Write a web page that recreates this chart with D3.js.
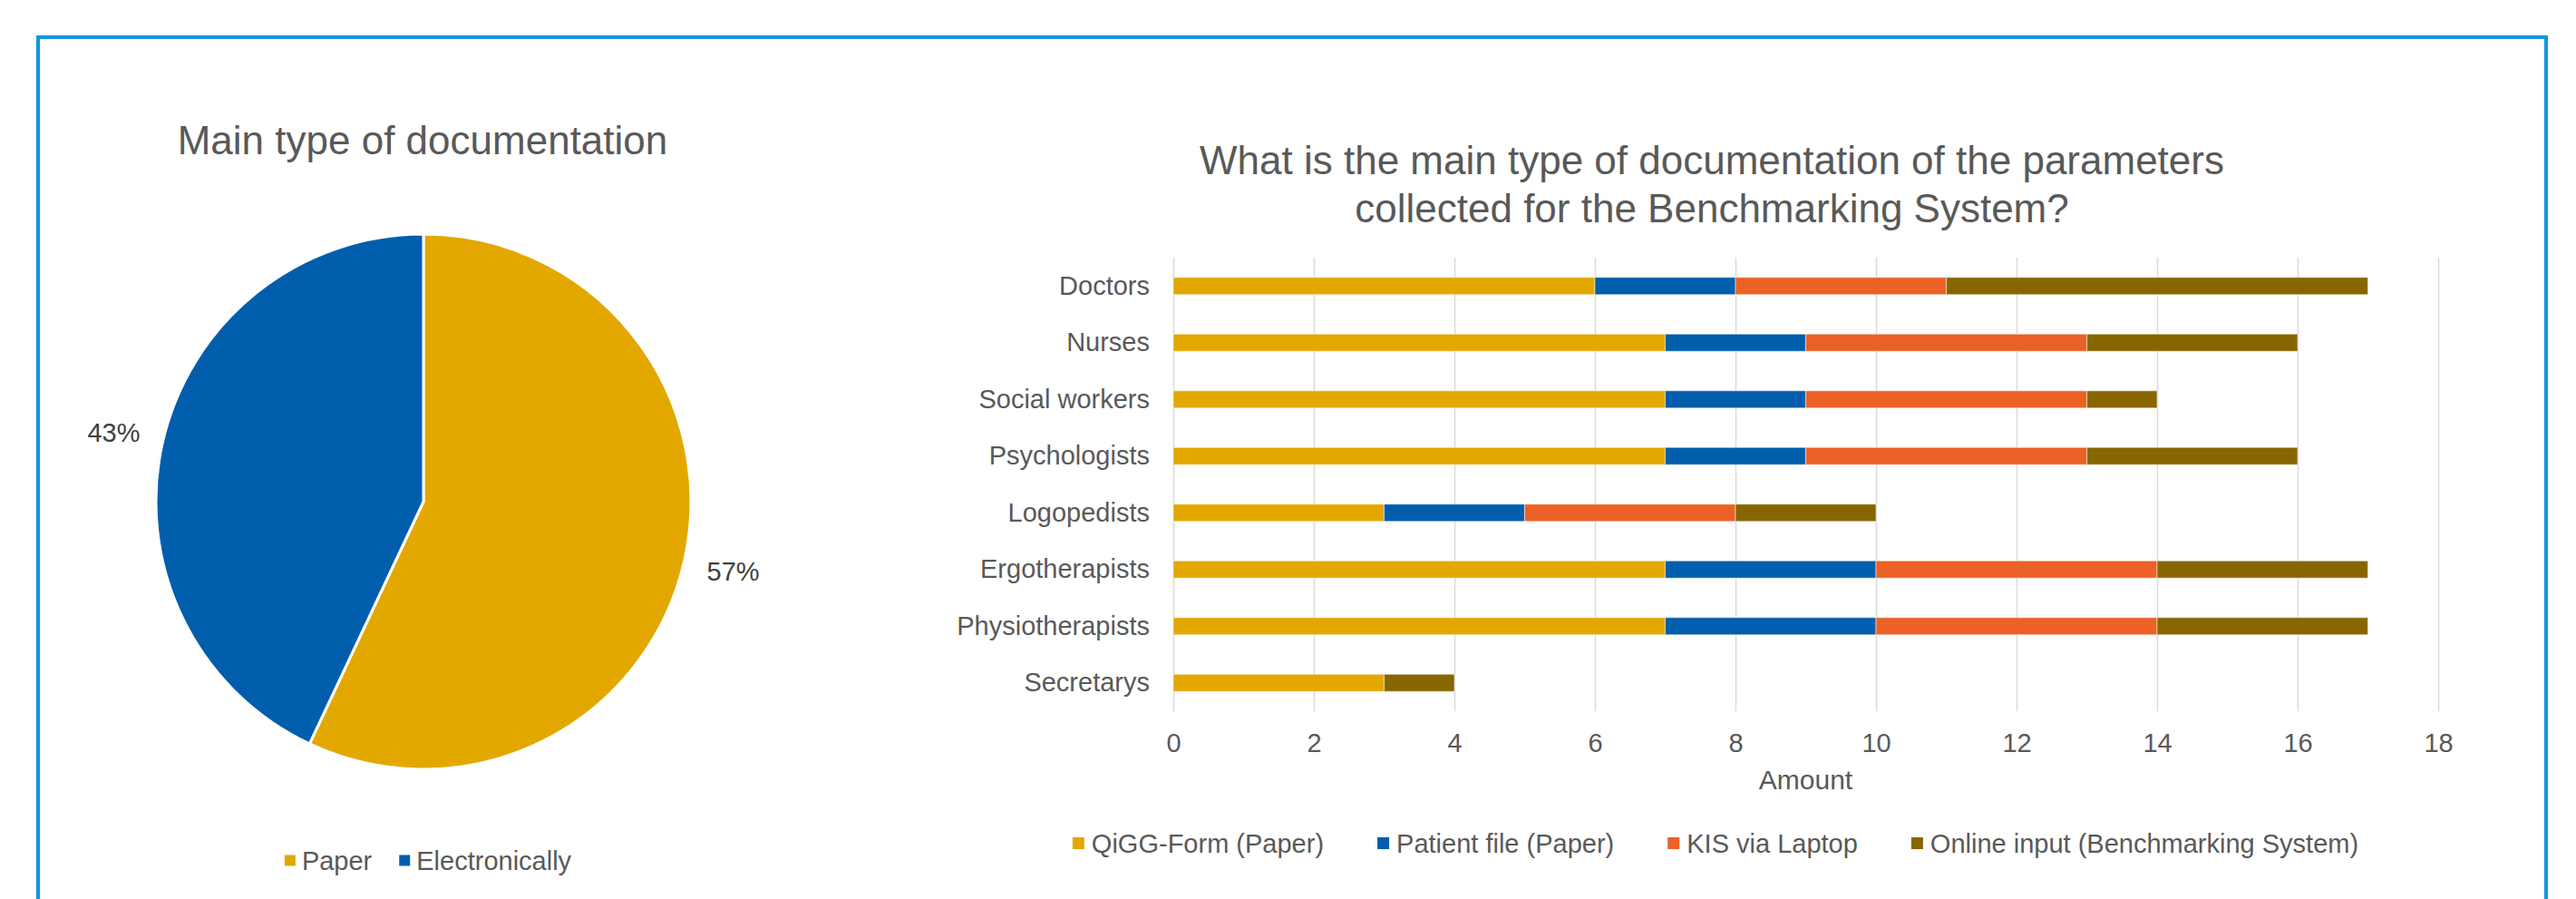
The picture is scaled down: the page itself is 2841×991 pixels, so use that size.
<!DOCTYPE html>
<html>
<head>
<meta charset="utf-8">
<script src="https://cdn.jsdelivr.net/npm/d3@7/dist/d3.min.js"></script>
<style>
  html, body { margin: 0; padding: 0; background: #fff; }
  svg { display: block; font-family: "Liberation Sans", Arial, sans-serif; }
</style>
</head>
<body>
<svg id="chart" width="2841" height="991"></svg>
<script>
// ---------- Data ----------
const pieTitle = "Main type of documentation";
const pieCategories = ["Paper", "Electronically"];
const pieValues = [57, 43];
const pieColors = ["#E3A800", "#005EAD"];

const barTitleLines = ["What is the main type of documentation of the parameters",
                       "collected for the Benchmarking System?"];
const categories = ["Doctors", "Nurses", "Social workers", "Psychologists",
                    "Logopedists", "Ergotherapists", "Physiotherapists", "Secretarys"];
const seriesNames = ["QiGG-Form (Paper)", "Patient file (Paper)", "KIS via Laptop",
                     "Online input (Benchmarking System)"];
const qiggForm     = [6, 7, 7, 7, 3, 7, 7, 3];
const patientFile  = [2, 2, 2, 2, 2, 3, 3, 0];
const kisLaptop    = [3, 4, 4, 4, 3, 4, 4, 0];
const onlineInput  = [6, 3, 1, 3, 2, 3, 3, 1];
const seriesColors = ["#E3A800", "#005EAD", "#EB6126", "#876600"];
const xTicks = [0, 2, 4, 6, 8, 10, 12, 14, 16, 18];
const xAxisTitle = "Amount";

(function () {
// ---------- Setup ----------
const svg = d3.select("#chart");
const textColor = "#595959";

// Outer frame
svg.append("rect")
  .attr("x", 42).attr("y", 41)
  .attr("width", 2766).attr("height", 1000)
  .attr("fill", "none")
  .attr("stroke", "#1296DB")
  .attr("stroke-width", 4);

// ---------- Pie chart ----------
const pcx = 467, pcy = 553, pr = 295;
svg.append("text")
  .attr("x", 466).attr("y", 170)
  .attr("text-anchor", "middle")
  .attr("font-size", 44)
  .attr("fill", textColor)
  .text(pieTitle);

const pie = d3.pie().sort(null).value(d => d.v);
const pieData = pie(pieCategories.map((c, i) => ({c, v: pieValues[i], col: pieColors[i]})));
const arc = d3.arc().innerRadius(0).outerRadius(pr);
const labelArc = d3.arc().innerRadius(350).outerRadius(350);
const total = d3.sum(pieValues);

const pg = svg.append("g").attr("transform", `translate(${pcx},${pcy})`);
pg.selectAll("path").data(pieData).join("path")
  .attr("d", arc)
  .attr("fill", d => d.data.col)
  .attr("stroke", "#fff")
  .attr("stroke-width", 3)
  .attr("stroke-linejoin", "round");
pg.selectAll("text").data(pieData).join("text")
  .attr("transform", d => `translate(${labelArc.centroid(d)})`)
  .attr("text-anchor", "middle")
  .attr("dy", "0.35em")
  .attr("font-size", 29)
  .attr("fill", "#404040")
  .text(d => Math.round(d.data.v / total * 100) + "%");

// Legend helper
function drawLegend(names, colors, centerX, baseline, markerGap, itemGap, msize) {
  const lg = svg.append("g");
  let cursor = 0;
  names.forEach((n, i) => {
    const g = lg.append("g");
    g.append("rect")
      .attr("x", cursor).attr("y", baseline - 10.5 - msize / 2)
      .attr("width", msize).attr("height", msize)
      .attr("fill", colors[i]);
    const t = g.append("text")
      .attr("x", cursor + markerGap).attr("y", baseline)
      .attr("font-size", 29)
      .attr("fill", textColor)
      .text(n);
    const w = t.node().getComputedTextLength();
    cursor = cursor + markerGap + w + itemGap;
  });
  const totalW = cursor - itemGap;
  lg.attr("transform", `translate(${centerX - totalW / 2},0)`);
}
drawLegend(pieCategories, pieColors, 472, 959, 19, 30, 12);

// ---------- Bar chart ----------
const pLeft = 1294, pRight = 2689, pTop = 284, pBottom = 784;
svg.append("text")
  .attr("x", 1888).attr("y", 192)
  .attr("text-anchor", "middle")
  .attr("font-size", 44)
  .attr("fill", textColor)
  .selectAll("tspan").data(barTitleLines).join("tspan")
  .attr("x", 1888)
  .attr("dy", (d, i) => i === 0 ? 0 : 53)
  .text(d => d);

const x = d3.scaleLinear().domain([0, 18]).range([pLeft, pRight]);
const y = d3.scaleBand().domain(categories).range([pTop, pBottom]).paddingInner(0).paddingOuter(0);
const barH = y.bandwidth() * 0.304;

// gridlines + tick labels
const xg = svg.append("g")
  .attr("transform", `translate(0,${pBottom})`)
  .call(d3.axisBottom(x).tickValues(xTicks).tickSize(-(pBottom - pTop)).tickPadding(24));
xg.select(".domain").remove();
xg.selectAll(".tick line").attr("stroke", "#D9D9D9").attr("stroke-width", 1.5);
xg.selectAll(".tick text")
  .attr("font-size", 29)
  .attr("font-family", "Liberation Sans, Arial, sans-serif")
  .attr("fill", textColor);

// category labels
const yg = svg.append("g")
  .attr("transform", `translate(${pLeft},0)`)
  .call(d3.axisLeft(y).tickSize(0).tickPadding(26));
yg.select(".domain").remove();
yg.selectAll(".tick text")
  .attr("font-size", 29)
  .attr("font-family", "Liberation Sans, Arial, sans-serif")
  .attr("fill", textColor);

// stacked bars
const rows = categories.map((c, i) => ({
  cat: c, s0: qiggForm[i], s1: patientFile[i], s2: kisLaptop[i], s3: onlineInput[i]
}));
const stacked = d3.stack().keys(["s0", "s1", "s2", "s3"])(rows);
const bg = svg.append("g");
stacked.forEach((layer, li) => {
  bg.append("g").selectAll("rect")
    .data(layer.filter(d => d[1] - d[0] > 0))
    .join("rect")
    .attr("x", d => x(d[0]))
    .attr("width", d => x(d[1]) - x(d[0]))
    .attr("y", d => y(d.data.cat) + y.bandwidth() / 2 - barH / 2)
    .attr("height", barH)
    .attr("fill", seriesColors[li])
    .attr("stroke", "rgba(255,255,255,0.45)")
    .attr("stroke-width", 1.2);
});

// axis title
svg.append("text")
  .attr("x", (pLeft + pRight) / 2).attr("y", 870)
  .attr("text-anchor", "middle")
  .attr("font-size", 30)
  .attr("fill", textColor)
  .text(xAxisTitle);

// bar legend
drawLegend(seriesNames, seriesColors, 1892, 940, 21, 59, 13);
})();
</script>
</body>
</html>
